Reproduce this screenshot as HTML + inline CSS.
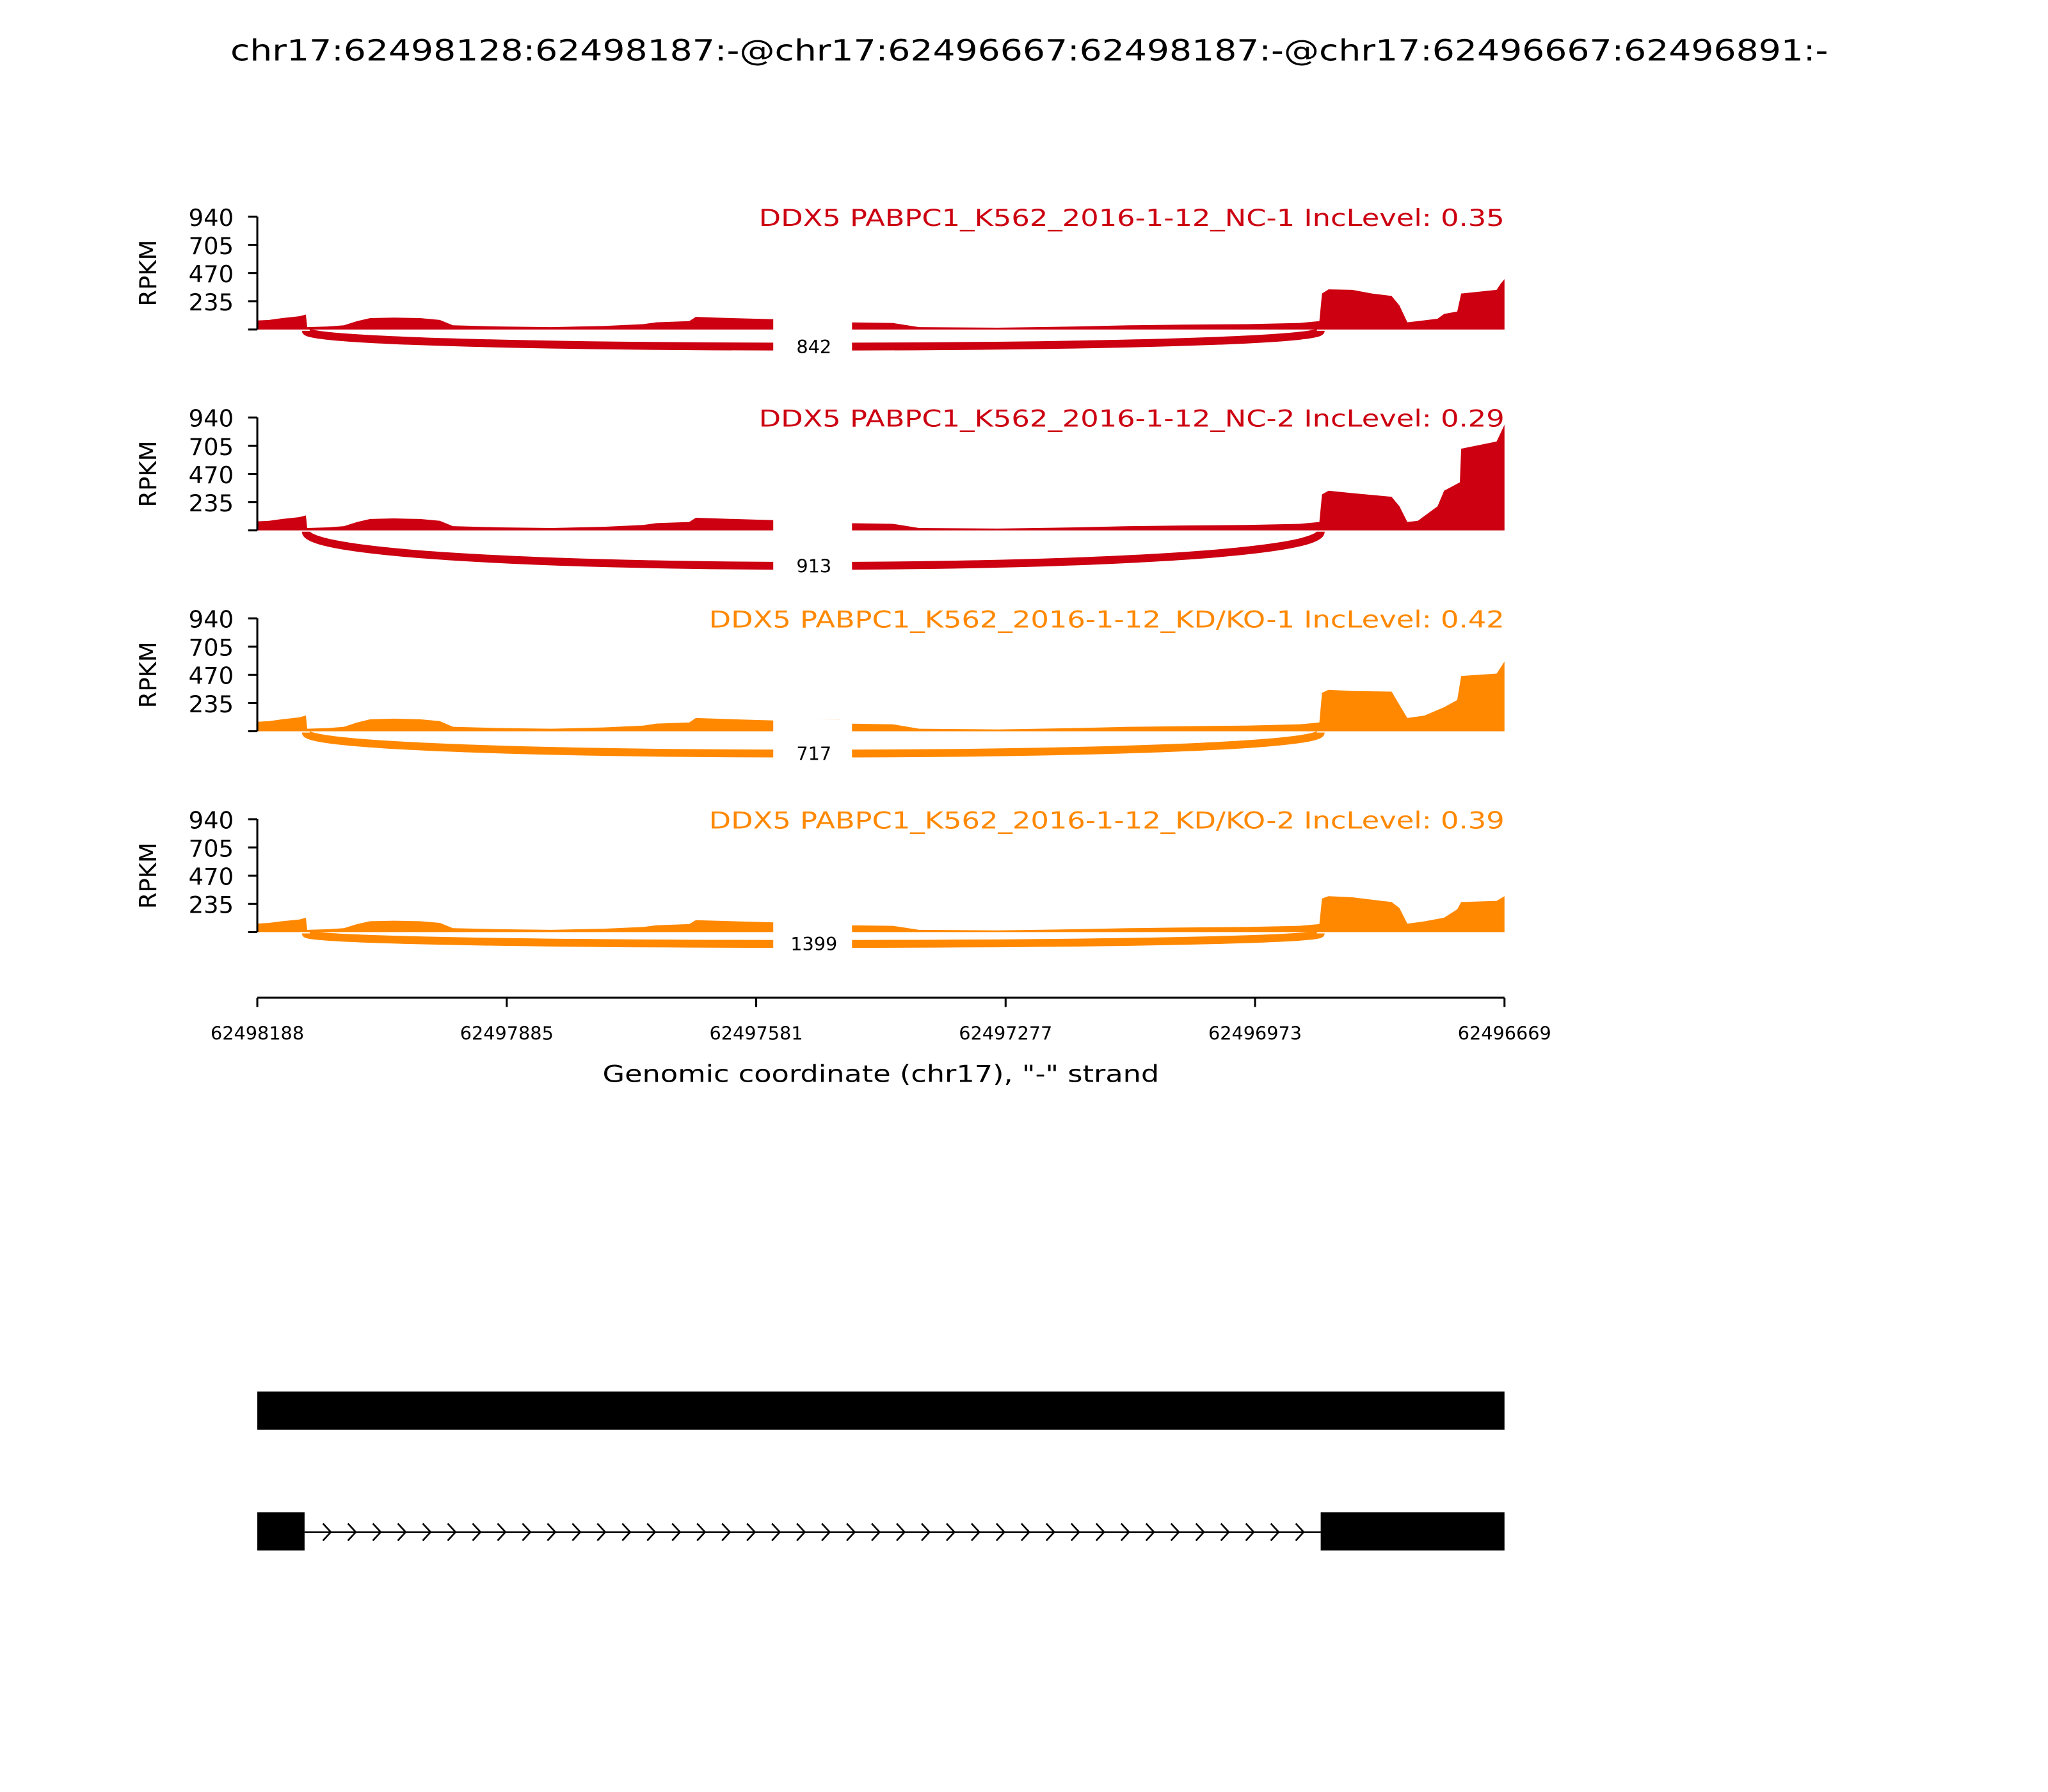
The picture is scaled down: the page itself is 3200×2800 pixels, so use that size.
<!DOCTYPE html>
<html><head><meta charset="utf-8"><style>
html,body{margin:0;padding:0;background:#fff;}
svg{display:block;}
text{font-family:"DejaVu Sans","Liberation Sans",sans-serif;}
</style></head><body>
<svg id="s" width="3200" height="2800" viewBox="0 0 1560 1365" xmlns="http://www.w3.org/2000/svg">
<rect width="1560" height="1365" fill="#fff"/>
<text x="784" y="46" font-size="22" text-anchor="middle" textLength="1217" lengthAdjust="spacingAndGlyphs">chr17:62498128:62498187:-@chr17:62496667:62498187:-@chr17:62496667:62496891:-</text>
<g id="panels"></g>
<text x="1146" y="172" font-size="18" fill="#cc0011" text-anchor="end" textLength="568" lengthAdjust="spacingAndGlyphs">DDX5 PABPC1_K562_2016-1-12_NC-1 IncLevel: 0.35</text>
<text x="1146" y="325" font-size="18" fill="#cc0011" text-anchor="end" textLength="568" lengthAdjust="spacingAndGlyphs">DDX5 PABPC1_K562_2016-1-12_NC-2 IncLevel: 0.29</text>
<text x="1146" y="478" font-size="18" fill="#ff8800" text-anchor="end" textLength="606" lengthAdjust="spacingAndGlyphs">DDX5 PABPC1_K562_2016-1-12_KD/KO-1 IncLevel: 0.42</text>
<text x="1146" y="631" font-size="18" fill="#ff8800" text-anchor="end" textLength="606" lengthAdjust="spacingAndGlyphs">DDX5 PABPC1_K562_2016-1-12_KD/KO-2 IncLevel: 0.39</text>
<g id="ylab" font-size="18" text-anchor="end"></g>
<line x1="196" y1="760" x2="1146" y2="760" stroke="#000" stroke-width="1.5"/>
<g stroke="#000" stroke-width="1.5">
<line x1="196" y1="760" x2="196" y2="767"/><line x1="386" y1="760" x2="386" y2="767"/><line x1="576" y1="760" x2="576" y2="767"/><line x1="766" y1="760" x2="766" y2="767"/><line x1="956" y1="760" x2="956" y2="767"/><line x1="1146" y1="760" x2="1146" y2="767"/>
</g>
<g font-size="14" text-anchor="middle">
<text x="196" y="792">62498188</text><text x="386" y="792">62497885</text><text x="576" y="792">62497581</text><text x="766" y="792">62497277</text><text x="956" y="792">62496973</text><text x="1146" y="792">62496669</text>
</g>
<text x="671" y="824" font-size="18" text-anchor="middle" textLength="424" lengthAdjust="spacingAndGlyphs">Genomic coordinate (chr17), "-" strand</text>
<rect x="196" y="1060" width="950" height="29" fill="#000"/>
<rect x="196" y="1152" width="36" height="29" fill="#000"/>
<rect x="1006" y="1152" width="140" height="29" fill="#000"/>
<line x1="232" y1="1167" x2="1006" y2="1167" stroke="#000" stroke-width="1.2"/>
<g id="chev" fill="none" stroke="#000" stroke-width="1.3"></g>
</svg>
<script>
(function(){
var NS="http://www.w3.org/2000/svg";
function el(t,a,p){var e=document.createElementNS(NS,t);for(var k in a)e.setAttribute(k,a[k]);p.appendChild(e);return e;}
var P=document.getElementById("panels"),Y=document.getElementById("ylab");
var bases=[251,404,557,710];
var cols=["#cc0011","#cc0011","#ff8800","#ff8800"];
var depth=[12,26,16,8];
var nums=["842","913","717","1399"];
var common=[[196,75],[205,80],[215,95],[228,110],[233,125],[234,20],[250,25],[262,35],[272,70],[282,95],[300,100],[320,95],[335,80],[345,35],[380,25],[420,20],[460,30],[490,45],[500,60],[525,70],[530,105],[545,100],[575,90],[590,85],[640,95],[645,60],[680,55],[700,20],[760,15],[820,25],[860,35],[900,40],[950,45],[990,55],[1005,70]];
var ends=[
 [[1007,300],[1012,335],[1030,330],[1045,300],[1060,280],[1066,200],[1072,60],[1080,70],[1095,90],[1100,130],[1110,150],[1113,300],[1140,330],[1143,380],[1146,420]],
 [[1007,300],[1012,330],[1030,310],[1060,280],[1066,200],[1072,70],[1080,80],[1095,200],[1100,330],[1112,400],[1113,680],[1140,740],[1146,880]],
 [[1007,320],[1012,345],[1030,335],[1060,330],[1066,220],[1072,110],[1085,130],[1100,200],[1110,260],[1113,460],[1140,480],[1146,580]],
 [[1007,280],[1012,300],[1030,290],[1060,250],[1066,200],[1072,70],[1085,90],[1100,120],[1110,190],[1113,250],[1140,260],[1146,300]]
];
var scl=[1,1,1.05,0.95];
for(var i=0;i<4;i++){
 var b=bases[i],tp=b-86,k=86/940;
 var pts=common.map(function(p){return [p[0],p[1]*scl[i]];}).concat(ends[i]);
 var d="M196,"+b;
 pts.forEach(function(p){d+=" L"+p[0]+","+(b-p[1]*k).toFixed(1);});
 d+=" L1146,"+b+" Z";
 el("path",{d:d,fill:cols[i]},P);
 var c=depth[i]/0.75;
 el("path",{d:"M233,"+(b+1)+" C233,"+(b+1+c)+" 1006,"+(b+1+c)+" 1006,"+(b+1),fill:"none",stroke:cols[i],"stroke-width":6},P);
 var my=b+1+depth[i];
 el("rect",{x:589,y:b-9,width:60,height:my-b+18,fill:"#fff"},P);
 var t=el("text",{x:620,y:my+5,"font-size":14,"text-anchor":"middle"},P);t.textContent=nums[i];
 el("line",{x1:196,y1:tp,x2:196,y2:b,stroke:"#000","stroke-width":1.5},P);
 var lab=["940","705","470","235"];
 for(var j=0;j<5;j++){var yy=tp+j*86/4;el("line",{x1:189,y1:yy,x2:196,y2:yy,stroke:"#000","stroke-width":1.5},P);
  if(j<4){var tt=el("text",{x:178,y:yy+7},Y);tt.textContent=lab[j];}}
 var r=el("text",{x:0,y:0,"font-size":18,"text-anchor":"middle",transform:"translate(119,"+(tp+43)+") rotate(-90)"},P);r.textContent="RPKM";
}
var C=document.getElementById("chev");
for(var x=252;x<1004;x+=19){el("polyline",{points:(x-6)+",1160.5 "+x+",1167 "+(x-6)+",1173.5"},C);}
})();
</script>
</body></html>
